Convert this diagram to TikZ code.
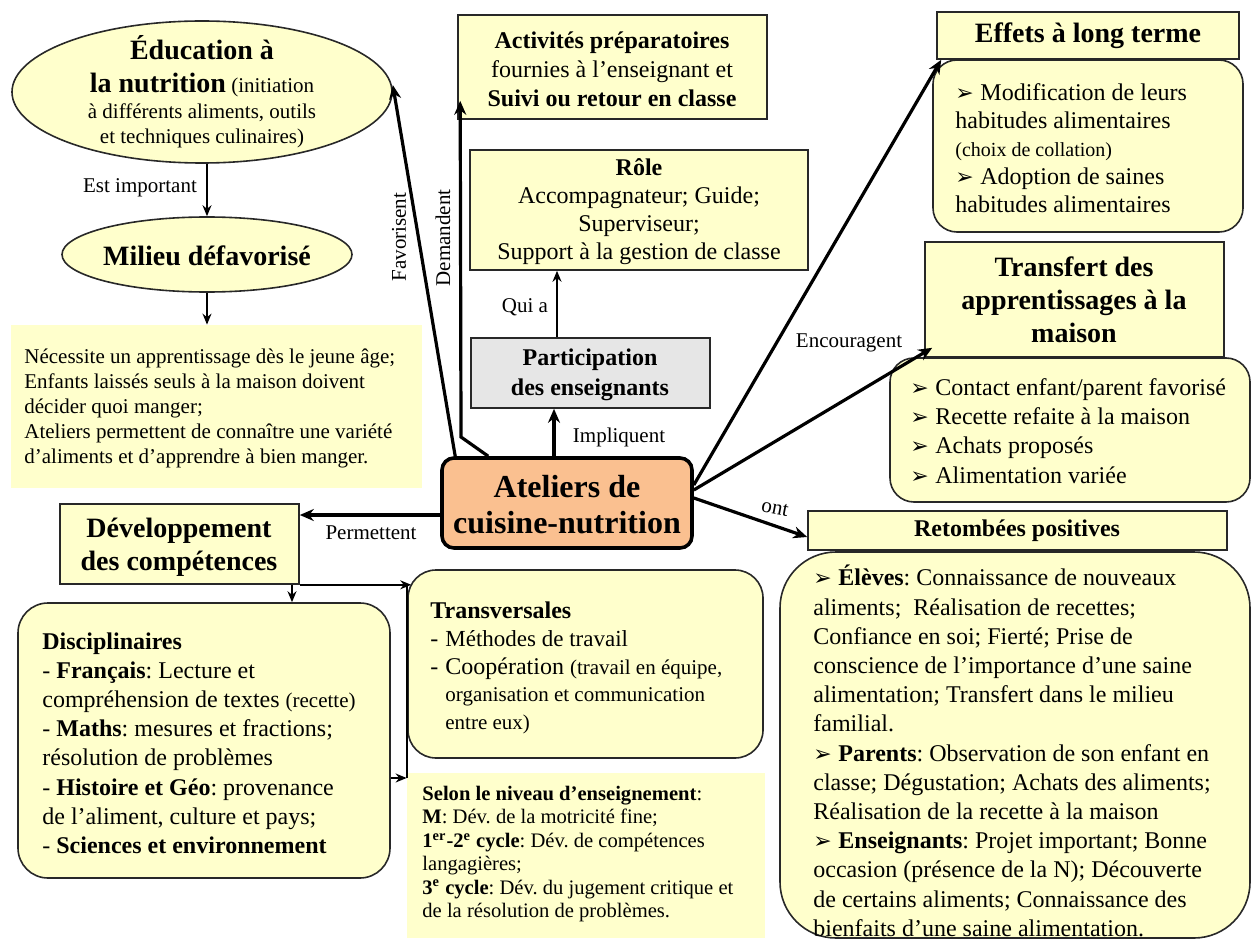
\documentclass[tikz,border=0pt]{standalone}
\usepackage{fontspec}
\setmainfont{Liberation Serif}
\newfontfamily\dejavu{DejaVu Sans}
\usetikzlibrary{shapes.geometric,fit,arrows.meta}
\definecolor{pale}{RGB}{255,255,204}
\definecolor{orng}{RGB}{250,192,144}
\definecolor{gry}{RGB}{230,230,230}
\definecolor{edge}{RGB}{40,40,40}
\newcommand{\myfs}[2]{\fontsize{#1}{#2}\selectfont}
\newcommand{\bul}{\makebox[12.5pt][l]{\dejavu\fontsize{11}{11}\selectfont ➢}}
\frenchspacing
\begin{document}
\frenchspacing
\begin{tikzpicture}[x=0.5pt,y=-0.5pt,
 box/.style={draw=edge,line width=0.8pt,fill=pale,inner sep=0pt},
 plainbox/.style={fill=pale,inner sep=0pt},
 ell/.style={ellipse,draw=edge,line width=0.8pt,fill=pale,inner sep=0pt},
 txt/.style={inner sep=0pt},
 lbl/.style={inner sep=0pt,font=\myfs{10.5}{12}},
 conn/.style={line width=0.75pt,-{Stealth[length=5.5pt,width=4.5pt]}},
 connB/.style={line width=1.6pt,-{Stealth[length=7pt,width=6pt]}},
 plainline/.style={line width=0.75pt}
]
\useasboundingbox (0,0) rectangle (1251,941);

% ---------- shapes ----------
\node[ell,minimum width=190pt,minimum height=71pt] (edu) at (202,92) {};
\node[ell,minimum width=145pt,minimum height=37.5pt] (mil) at (207,254.5) {};
\node[plainbox,fit={(11,325)(422,488)}] (nec) {};
\node[box,fit={(60,504)(299,584)}] (dev) {};
\node[box,fit={(442,458)(692,548)},rounded corners=6pt,line width=1.8pt,fill=orng,draw=black] (atl) {};
\node[box,fill=gry,fit={(471,338)(710,408)}] (par) {};
\node[box,fit={(470,150)(808,270)}] (rol) {};
\node[box,fit={(458,15)(767,119)}] (act) {};
\node[box,rounded corners=12pt,fit={(933,60)(1243,232)}] (effb) {};
\node[box,fit={(937,12)(1239,59)}] (eff) {};
\node[box,rounded corners=12pt,fit={(890,358)(1250,502)}] (trab) {};
\node[box,fit={(925,242)(1224,357)}] (tra) {};
\node[box,rounded corners=28pt,fit={(780,552)(1250,938)}] (retb) {};
\node[box,fit={(808,511)(1227,550)}] (ret) {};
\node[box,rounded corners=15pt,fit={(18,603)(390,878)}] (dis) {};
\node[box,rounded corners=14pt,fit={(408,570)(763,758)}] (trv) {};
\node[plainbox,fit={(407,773)(765,938)}] (sel) {};

% ---------- texts ----------
\node[txt,align=center,font=\myfs{10.5}{12.75}] (edu-t) at (202,92)
 {{\myfs{14}{16}\bfseries Éducation à}\\[3.75pt]{\myfs{14}{16}\bfseries la nutrition} (initiation\\à différents aliments, outils\\et techniques culinaires)};
\node[txt,font=\myfs{14}{16}\bfseries] (mil-t) at (207,256) {Milieu défavorisé};
\node[txt,anchor=west,align=left,font=\myfs{10.5}{12.5}] (nec-t) at (24,408)
 {Nécessite un apprentissage dès le jeune âge;\\Enfants laissés seuls à la maison doivent\\décider quoi manger;\\Ateliers permettent de connaître une variété\\d’aliments et d’apprendre à bien manger.};
\node[txt,align=center,font=\myfs{14}{16.5}\bfseries] (dev-t) at (179,547) {Développement\\des compétences};
\node[txt,align=center,font=\myfs{16}{18}\bfseries] (atl-t) at (567,505) {Ateliers de\\cuisine-nutrition};
\node[txt,align=center,font=\myfs{12}{15}\bfseries] (par-t) at (590,375) {Participation\\des enseignants};
\node[txt,align=center,font=\myfs{12}{14}] (rol-t) at (639,212)
 {\textbf{Rôle}\\Accompagnateur; Guide;\\Superviseur;\\Support à la gestion de classe};
\node[txt,align=center,font=\myfs{12}{14.5}] (act-t) at (612,69)
 {\textbf{Activités préparatoires}\\fournies à l’enseignant et\\\textbf{Suivi ou retour en classe}};
\node[txt,font=\myfs{14}{16}\bfseries] (eff-t) at (1088,36) {Effets à long terme};
\node[txt,anchor=west,align=left,font=\myfs{12}{14}] (effb-t) at (955,148)
 {\bul Modification de leurs\\habitudes alimentaires\\{\myfs{10}{12}(choix de collation)}\\\bul Adoption de saines\\habitudes alimentaires};
\node[txt,align=center,font=\myfs{14}{16.5}\bfseries] (tra-t) at (1074,300) {Transfert des\\apprentissages à la\\maison};
\node[txt,anchor=west,align=left,font=\myfs{12}{14.6}] (trab-t) at (910,431)
 {\bul Contact enfant/parent favorisé\\\bul Recette refaite à la maison\\\bul Achats proposés\\\bul Alimentation variée};
\node[txt,font=\myfs{12}{14}\bfseries] (ret-t) at (1017,531) {Retombées positives};
\node[txt,anchor=west,align=left,font=\myfs{12}{14.6}] (retb-t) at (813,751)
 {\bul\textbf{Élèves}: Connaissance de nouveaux\\aliments;~ Réalisation de recettes;\\Confiance en soi; Fierté; Prise de\\conscience de l’importance d’une saine\\alimentation; Transfert dans le milieu\\familial.\\\bul\textbf{Parents}: Observation de son enfant en\\classe; Dégustation; Achats des aliments;\\Réalisation de la recette à la maison\\\bul\textbf{Enseignants}: Projet important; Bonne\\occasion (présence de la N); Découverte\\de certains aliments; Connaissance des\\bienfaits d’une saine alimentation.};
\node[txt,anchor=west,align=left,font=\myfs{12}{14.6}] (dis-t) at (42,743)
 {\textbf{Disciplinaires}\\- \textbf{Français}: Lecture et\\compréhension de textes {\myfs{10.5}{12}(recette)}\\- \textbf{Maths}: mesures et fractions;\\résolution de problèmes\\- \textbf{Histoire et Géo}: provenance\\de l’aliment, culture et pays;\\- \textbf{Sciences et environnement}};
\node[txt,anchor=west,align=left,font=\myfs{12}{13.9}] (trv-t) at (430,668)
 {\textbf{Transversales}\\\makebox[7.5pt][l]{-}{\myfs{11.5}{13}Méthodes de travail}\\\makebox[7.5pt][l]{-}Coopération {\myfs{10.5}{12}(travail en équipe,}\\\hspace*{7.5pt}{\myfs{10.5}{12}organisation et communication}\\\hspace*{7.5pt}{\myfs{10.5}{12}entre eux)}};
\node[txt,anchor=west,align=left,font=\myfs{10.3}{11.7}] (sel-t) at (422,854)
 {\textbf{Selon le niveau d’enseignement}:\\\textbf{M}: Dév. de la motricité fine;\\\textbf{1\textsuperscript{er}-2\textsuperscript{e} cycle}: Dév. de compétences\\langagières;\\\textbf{3\textsuperscript{e} cycle}: Dév. du jugement critique et\\de la résolution de problèmes.};

% ---------- labels ----------
\node[lbl] (l-est) at (140,188) {Est important};
\node[lbl,rotate=90] (l-fav) at (399,237) {Favorisent};
\node[lbl,rotate=90] (l-dem) at (443,238) {Demandent};
\node[lbl] (l-qui) at (525,307) {Qui a};
\node[lbl] (l-imp) at (619,437) {Impliquent};
\node[lbl] (l-enc) at (849,343) {Encouragent};
\node[lbl] (l-per) at (371,533) {Permettent};
\node[lbl,rotate=-11] (l-ont) at (775,508) {ont};

% ---------- connectors ----------
\draw[conn] (edu.south -| mil.north) -- (mil.north);
\draw[conn] (mil.south) -- (nec.north -| mil.south);
\draw[connB] ([xshift=7.5pt]atl.north west) -- ([yshift=3.5pt]edu.east);
\coordinate (dmA) at (461,437);
\draw[connB] ([xshift=24pt]atl.north west) -- (dmA) -- ([xshift=1.5pt,yshift=9.5pt]act.south west);
\draw[connB] (atl.north -| 554,0) -- (par.south -| 554,0);
\draw[conn] (par.north -| 557,0) -- (rol.south -| 557,0);
\draw[connB] ([yshift=9pt]atl.east) -- ([xshift=2.5pt]eff.south west);
\draw[connB] ([yshift=6.5pt]atl.east) -- ([xshift=4pt,yshift=5pt]tra.south west);
\draw[connB] ([yshift=2.5pt]atl.east) -- ([yshift=-3.25pt]ret.west);
\draw[connB] (atl.west |- 0,515) -- (dev.east |- 0,515);
\draw[conn] (dev.south -| 292,0) -- (dis.north -| 292,0);
\draw[conn] (dev.south east) -- ([xshift=2pt]trv.west |- dev.south east);
\draw[plainline] (trv.west |- dev.south east) -- (trv.west |- 0,778);
\draw[conn] (dis.east |- 0,778) -- (sel.west |- 0,778);
\end{tikzpicture}
\end{document}
